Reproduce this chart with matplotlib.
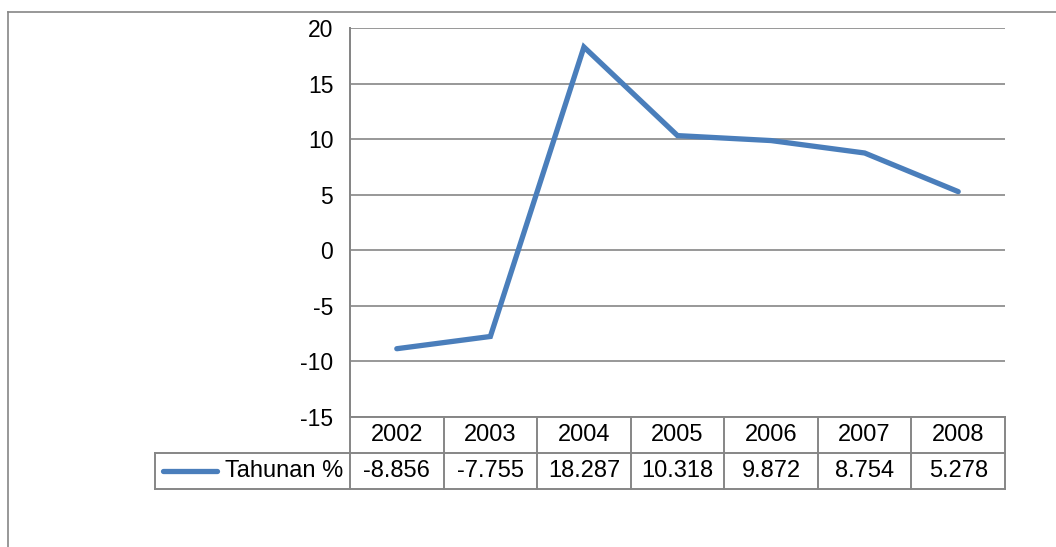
import matplotlib
matplotlib.use('Agg')
import matplotlib.pyplot as plt
from matplotlib.lines import Line2D

plt.rcParams['font.family'] = ['Liberation Sans', 'DejaVu Sans']

# Data
years = ['2002', '2003', '2004', '2005', '2006', '2007', '2008']
tahunan = [-8.856, -7.755, 18.287, 10.318, 9.872, 8.754, 5.278]
series_name = 'Tahunan %'
yticks = [-15, -10, -5, 0, 5, 10, 15, 20]

W, H = 1056, 547
fig = plt.figure(figsize=(W / 100, H / 100), dpi=100)

def fx(px):
    return px / W

def fy(py):
    return 1 - py / H

grid_col = '#868686'
line_col = '#4A7EBB'

# plot area in pixels
left, right, top, bottom = 350, 1005, 28, 417
ax = fig.add_axes([fx(left), fy(bottom), fx(right) - fx(left), fy(top) - fy(bottom)])
x = list(range(len(years)))
ax.plot(x, tahunan, color=line_col, linewidth=3.8, solid_capstyle='round', solid_joinstyle='miter')
ax.set_xlim(-0.5, len(years) - 0.5)
ax.set_ylim(-15, 20)
ax.set_yticks(yticks)
ax.set_yticklabels([str(v) for v in yticks], fontsize=16.5)
ax.set_xticks([])
ax.tick_params(axis='y', length=0, pad=12)
for s in ['top', 'right', 'bottom']:
    ax.spines[s].set_visible(False)
ax.spines['left'].set_color(grid_col)
ax.spines['left'].set_linewidth(1.2)
ax.yaxis.grid(True, color=grid_col, linewidth=1.2)
ax.set_axisbelow(True)

# outer chart border
fig.add_artist(Line2D([fx(8), fx(8)], [fy(12), fy(H + 5)], color=grid_col, lw=1.2))
fig.add_artist(Line2D([fx(8), fx(W + 5)], [fy(12), fy(12)], color=grid_col, lw=1.2))

# data table
row1_top, row1_bot, row2_bot = 417, 453, 489
key_left = 155
colw = (right - left) / len(years)
tl = dict(color=grid_col, lw=1.4)

fig.add_artist(Line2D([fx(left), fx(right)], [fy(row1_top), fy(row1_top)], **tl))
fig.add_artist(Line2D([fx(key_left), fx(right)], [fy(row1_bot), fy(row1_bot)], **tl))
fig.add_artist(Line2D([fx(key_left), fx(right)], [fy(row2_bot), fy(row2_bot)], **tl))
fig.add_artist(Line2D([fx(key_left), fx(key_left)], [fy(row1_bot), fy(row2_bot)], **tl))
for i in range(len(years) + 1):
    cx = left + i * colw
    fig.add_artist(Line2D([fx(cx), fx(cx)], [fy(top if i == 0 else row1_top), fy(row2_bot)], **tl))

for i, (yr, v) in enumerate(zip(years, tahunan)):
    cx = left + (i + 0.5) * colw
    fig.text(fx(cx), fy((row1_top + row1_bot) / 2), yr, ha='center', va='center', fontsize=17)
    fig.text(fx(cx), fy((row1_bot + row2_bot) / 2), f'{v:.3f}', ha='center', va='center', fontsize=17)

# legend key in table
ky = fy((row1_bot + row2_bot) / 2)
fig.add_artist(Line2D([fx(163), fx(217)], [ky, ky], color=line_col, lw=3.8, solid_capstyle='round'))
fig.text(fx(343), ky, series_name, ha='right', va='center', fontsize=17)

fig.savefig('out.png', dpi=100)
